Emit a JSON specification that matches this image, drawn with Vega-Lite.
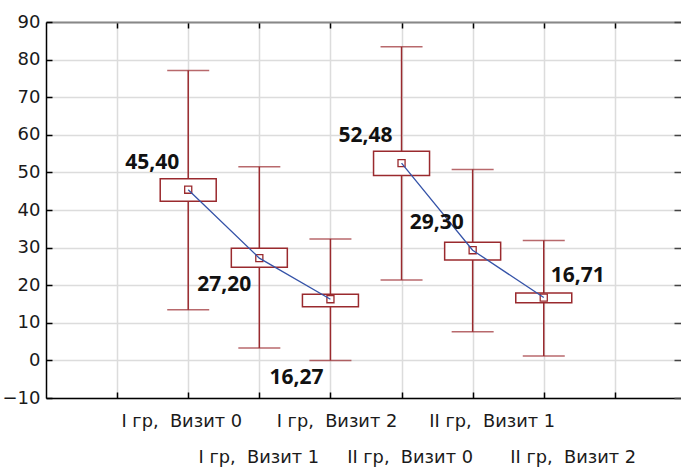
{
  "$schema": "https://vega.github.io/schema/vega-lite/v6.json",
  "width": 635,
  "height": 376,
  "autosize": "none",
  "padding": {"left": 46, "top": 22, "right": 0, "bottom": 70},
  "background": "white",
  "config": {
    "view": {"stroke": null},
    "font": "DejaVu Sans",
    "scale": {"continuousPadding": 0},
    "axis": {"labelFont": "DejaVu Sans", "labelFontSize": 18, "labelColor": "#1a1a1a"}
  },
  "data": {
    "values": [
      {"pos": 2, "grp": "I", "mean": 45.40, "blo": 42.3, "bhi": 48.3, "wlo": 13.5, "whi": 77.1, "lbl": "45,40"},
      {"pos": 3, "grp": "I", "mean": 27.20, "blo": 24.8, "bhi": 29.8, "wlo": 3.3, "whi": 51.5, "lbl": "27,20"},
      {"pos": 4, "grp": "I", "mean": 16.27, "blo": 14.3, "bhi": 17.6, "wlo": 0.0, "whi": 32.3, "lbl": "16,27"},
      {"pos": 5, "grp": "II", "mean": 52.48, "blo": 49.2, "bhi": 55.6, "wlo": 21.4, "whi": 83.4, "lbl": "52,48"},
      {"pos": 6, "grp": "II", "mean": 29.30, "blo": 26.7, "bhi": 31.4, "wlo": 7.6, "whi": 50.8, "lbl": "29,30"},
      {"pos": 7, "grp": "II", "mean": 16.71, "blo": 15.3, "bhi": 17.9, "wlo": 1.2, "whi": 31.9, "lbl": "16,71"}
    ]
  },
  "layer": [
    {
      "mark": {"type": "rule", "color": "#9a2a2e", "strokeWidth": 1.5},
      "encoding": {
        "x": {
          "field": "pos", "type": "quantitative",
          "scale": {"domain": [0, 8.93], "nice": false, "zero": false, "padding": 0},
          "axis": {
            "orient": "bottom", "title": null, "values": [1, 2, 3, 4, 5, 6, 7, 8],
            "grid": true, "gridColor": "#dcdcdc", "gridWidth": 1.5,
            "domainColor": "#000", "domainWidth": 1.5,
            "tickColor": "#000", "tickSize": -6, "tickWidth": 1.5,
            "labelFont": "DejaVu Sans", "labelFontSize": 17.8, "labelColor": "#1a1a1a",
            "labelPadding": 20, "labelBaseline": "top", "labelLineHeight": 36,
            "labelOverlap": false, "labelFlush": false, "labelBound": false,
            "labelOffset": {
              "condition": [
                {"test": "datum.value==2", "value": -7},
                {"test": "datum.value==3", "value": -1},
                {"test": "datum.value==4", "value": 6},
                {"test": "datum.value==5", "value": 8},
                {"test": "datum.value==6", "value": 19},
                {"test": "datum.value==7", "value": 29}
              ],
              "value": 0
            },
            "labelExpr": "datum.value==2?'I гр,\u00a0 Визит 0':datum.value==3?['','I гр,\u00a0 Визит 1']:datum.value==4?'I гр,\u00a0 Визит 2':datum.value==5?['','II гр,\u00a0 Визит 0']:datum.value==6?'II гр,\u00a0 Визит 1':datum.value==7?['','II гр,\u00a0 Визит 2']:''"
          }
        },
        "y": {
          "field": "wlo", "type": "quantitative",
          "scale": {"domain": [-10, 90], "nice": false, "zero": false, "padding": 0},
          "axis": {
            "orient": "left", "title": null, "values": [-10, 0, 10, 20, 30, 40, 50, 60, 70, 80, 90],
            "grid": true, "gridColor": "#dcdcdc", "gridWidth": 1.5,
            "domainColor": "#000", "domainWidth": 1.5,
            "tickColor": "#000", "tickSize": -6, "tickWidth": 1.5,
            "labelFont": "DejaVu Sans", "labelFontSize": 18, "labelColor": "#1a1a1a",
            "labelPadding": 12
          }
        },
        "y2": {"field": "whi"}
      }
    },
    {
      "mark": {"type": "tick", "orient": "horizontal", "color": "#9a2a2e", "size": 42, "thickness": 1.5},
      "encoding": {
        "x": {
          "field": "pos", "type": "quantitative",
          "axis": {
            "orient": "top", "title": null, "values": [1, 2, 3, 4, 5, 6, 7, 8],
            "grid": false, "labels": false,
            "domainColor": "#888", "domainWidth": 2,
            "tickColor": "#000", "tickSize": -6, "tickWidth": 1.5
          }
        },
        "y": {
          "field": "whi", "type": "quantitative",
          "axis": {
            "orient": "right", "title": null, "values": [-10, 0, 10, 20, 30, 40, 50, 60, 70, 80, 90],
            "grid": false, "labels": false, "domain": false,
            "tickColor": "#444", "tickSize": -7, "tickWidth": 1.5
          }
        }
      }
    },
    {
      "mark": {"type": "tick", "orient": "horizontal", "color": "#9a2a2e", "size": 42, "thickness": 1.5},
      "encoding": {
        "x": {"field": "pos", "type": "quantitative", "axis": null},
        "y": {"field": "wlo", "type": "quantitative", "axis": null}
      }
    },
    {
      "mark": {"type": "bar", "size": 56, "fill": "white", "stroke": "#9a2a2e", "strokeWidth": 1.5},
      "encoding": {
        "x": {"field": "pos", "type": "quantitative", "axis": null},
        "y": {"field": "blo", "type": "quantitative", "axis": null},
        "y2": {"field": "bhi"}
      }
    },
    {
      "mark": {"type": "point", "shape": "square", "size": 50, "filled": false, "stroke": "#9a2a2e", "strokeWidth": 1.3, "opacity": 1},
      "encoding": {
        "x": {"field": "pos", "type": "quantitative", "axis": null},
        "y": {"field": "mean", "type": "quantitative", "axis": null}
      }
    },
    {
      "mark": {"type": "line", "color": "#3553a8", "strokeWidth": 1.3},
      "encoding": {
        "x": {"field": "pos", "type": "quantitative", "axis": null},
        "y": {"field": "mean", "type": "quantitative", "axis": null},
        "detail": {"field": "grp"}
      }
    },
    {
      "transform": [{"filter": "datum.pos==2 || datum.pos==5 || datum.pos==6"}],
      "mark": {"type": "text", "font": "Open Sans", "fontWeight": "bold", "fontSize": 21, "color": "#111", "dx": -36, "dy": -27, "align": "center", "baseline": "middle"},
      "encoding": {
        "x": {"field": "pos", "type": "quantitative", "axis": null},
        "y": {"field": "mean", "type": "quantitative", "axis": null},
        "text": {"field": "lbl"}
      }
    },
    {
      "transform": [{"filter": "datum.pos==3"}],
      "mark": {"type": "text", "font": "Open Sans", "fontWeight": "bold", "fontSize": 21, "color": "#111", "dx": -35, "dy": 27, "align": "center", "baseline": "middle"},
      "encoding": {
        "x": {"field": "pos", "type": "quantitative", "axis": null},
        "y": {"field": "mean", "type": "quantitative", "axis": null},
        "text": {"field": "lbl"}
      }
    },
    {
      "transform": [{"filter": "datum.pos==4"}],
      "mark": {"type": "text", "font": "Open Sans", "fontWeight": "bold", "fontSize": 21, "color": "#111", "dx": -34, "dy": 79, "align": "center", "baseline": "middle"},
      "encoding": {
        "x": {"field": "pos", "type": "quantitative", "axis": null},
        "y": {"field": "mean", "type": "quantitative", "axis": null},
        "text": {"field": "lbl"}
      }
    },
    {
      "transform": [{"filter": "datum.pos==7"}],
      "mark": {"type": "text", "font": "Open Sans", "fontWeight": "bold", "fontSize": 21, "color": "#111", "dx": 34, "dy": -22, "align": "center", "baseline": "middle"},
      "encoding": {
        "x": {"field": "pos", "type": "quantitative", "axis": null},
        "y": {"field": "mean", "type": "quantitative", "axis": null},
        "text": {"field": "lbl"}
      }
    }
  ],
  "resolve": {"axis": {"x": "independent", "y": "independent"}}
}
